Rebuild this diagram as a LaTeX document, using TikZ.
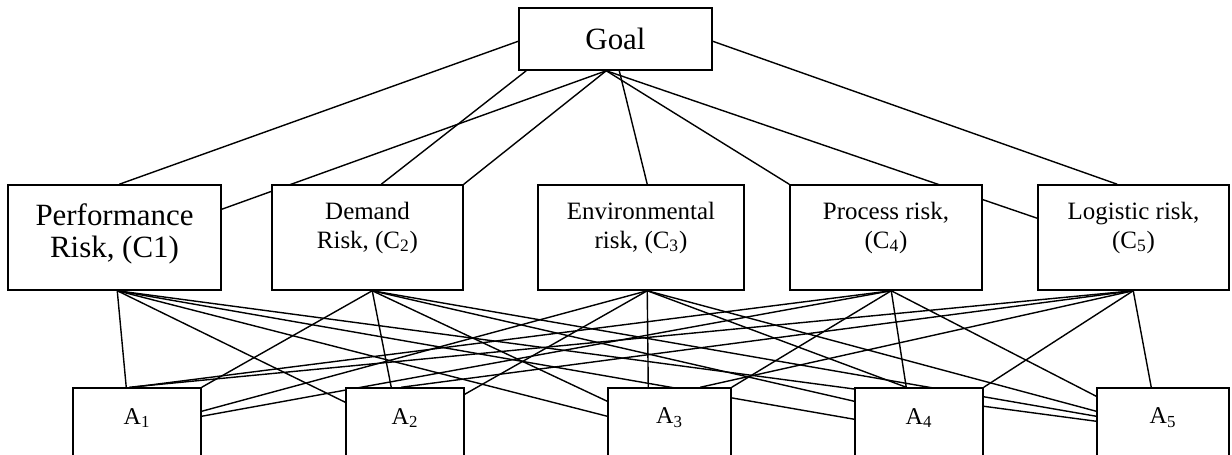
\documentclass[tikz,border=0pt]{standalone}
\usepackage{fontspec}
\setmainfont{Liberation Serif}
\usetikzlibrary{calc,fit}
\pgfdeclarelayer{bg}
\pgfsetlayers{bg,main}
\begin{document}
\begin{tikzpicture}[x=0.02cm,y=-0.02cm,
  box/.style={draw,line width=0.85pt,fill=white,inner sep=0pt},
  link/.style={line width=0.8pt},
  bigtxt/.style={font=\fontsize{17.6pt}{18pt}\selectfont,align=center,inner sep=0pt},
  midtxt/.style={font=\fontsize{14.2pt}{16pt}\selectfont,align=center,inner sep=0pt},
  alttxt/.style={font=\fontsize{13.7pt}{16pt}\selectfont,inner sep=0pt}]
\useasboundingbox (0,0) rectangle (1232,454);
\clip (0,0) rectangle (1232,454);
% boxes
\node[box,fit={(519,8) (712,70)}] (goal) {};
\node[box,fit={(8,185) (221,290)}] (c1) {};
\node[box,fit={(272,185) (463,290)}] (c2) {};
\node[box,fit={(538,185) (744,290)}] (c3) {};
\node[box,fit={(790,185) (982,290)}] (c4) {};
\node[box,fit={(1038,185) (1229,290)}] (c5) {};
\node[box,fit={(73,388) (201,480)}] (a1) {};
\node[box,fit={(346,388) (464,480)}] (a2) {};
\node[box,fit={(608,388) (731,480)}] (a3) {};
\node[box,fit={(855,388) (983,480)}] (a4) {};
\node[box,fit={(1097,388) (1229,480)}] (a5) {};
% texts
\node[bigtxt] (tg) at (615.5,39) {Goal};
\node[bigtxt] (t1) at (114.5,234) {Performance\\Risk, (C1)};
\node[midtxt] (t2) at (367.5,228) {Demand\\Risk, (C\textsubscript{2})};
\node[midtxt] (t3) at (641,228) {Environmental\\risk, (C\textsubscript{3})};
\node[midtxt] (t4) at (886,228) {Process risk,\\(C\textsubscript{4})};
\node[midtxt] (t5) at (1133.5,228) {Logistic risk,\\(C\textsubscript{5})};
\node[alttxt] (ta1) at (137,418) {A\textsubscript{1}};
\node[alttxt] (ta2) at (405,418) {A\textsubscript{2}};
\node[alttxt] (ta3) at (669.5,418) {A\textsubscript{3}};
\node[alttxt] (ta4) at (919,418) {A\textsubscript{4}};
\node[alttxt] (ta5) at (1163,418) {A\textsubscript{5}};
\begin{pgfonlayer}{bg}
% goal to criteria
\draw[link] ($(goal.north west)+(0,34)$) -- ($(c1.north west)+(112,0)$);
\draw[link] ($(goal.south west)+(8,0)$) -- ($(c2.north west)+(110,0)$);
\draw[link] ($(goal.south west)+(88,0)$) -- ($(c1.north east)+(0,25)$);
\draw[link] ($(goal.south west)+(88,0)$) -- (c2.north east);
\draw[link] ($(goal.south west)+(101,0)$) -- ($(c3.north west)+(110,0)$);
\draw[link] ($(goal.south west)+(88,0)$) -- (c4.north west);
\draw[link] ($(goal.south west)+(88,0)$) -- ($(c5.north west)+(0,34)$);
\draw[link] ($(goal.north east)+(0,34)$) -- ($(c5.north west)+(80,0)$);
% criteria bottom points
\coordinate (p1) at ($(c1.south west)+(110,0)$);
\coordinate (p2) at ($(c2.south west)+(101,0)$);
\coordinate (p3) at ($(c3.south west)+(110,0)$);
\coordinate (p4) at ($(c4.south west)+(102,0)$);
\coordinate (p5) at ($(c5.south west)+(96,0)$);
% C1
\draw[link] (p1) -- ($(a1.north west)+(54,0)$);
\draw[link] (p1) -- ($(a2.north west)+(0,15)$);
\draw[link] (p1) -- ($(a3.north west)+(0,29)$);
\draw[link] (p1) -- ($(a4.north west)+(0,32)$);
\draw[link] (p1) -- ($(a5.north west)+(0,34)$);
% C2
\draw[link] (p2) -- (a1.north east);
\draw[link] (p2) -- ($(a2.north west)+(46,0)$);
\draw[link] (p2) -- ($(a3.north west)+(0,14)$);
\draw[link] (p2) -- ($(a4.north west)+(0,14)$);
\draw[link] (p2) -- ($(a5.north west)+(0,29)$);
% C3
\draw[link] (p3) -- ($(a1.north east)+(0,24)$);
\draw[link] (p3) -- ($(a2.north east)+(0,7)$);
\draw[link] (p3) -- ($(a3.north west)+(41,0)$);
\draw[link] (p3) -- ($(a4.north west)+(52,0)$);
\draw[link] (p3) -- ($(a5.north west)+(0,24)$);
% C4
\draw[link] (p4) -- ($(a1.north west)+(60,0)$);
\draw[link] (p4) -- ($(a1.north east)+(0,29)$);
\draw[link] (p4) -- (a3.north east);
\draw[link] (p4) -- ($(a4.north west)+(52,0)$);
\draw[link] (p4) -- ($(a5.north west)+(0,9)$);
% C5
\draw[link] (p5) -- ($(a1.north west)+(57,0)$);
\draw[link] (p5) -- ($(a2.north west)+(56,0)$);
\draw[link] (p5) -- ($(a3.north west)+(93,0)$);
\draw[link] (p5) -- (a4.north east);
\draw[link] (p5) -- ($(a5.north west)+(55,0)$);
\end{pgfonlayer}
\end{tikzpicture}
\end{document}
